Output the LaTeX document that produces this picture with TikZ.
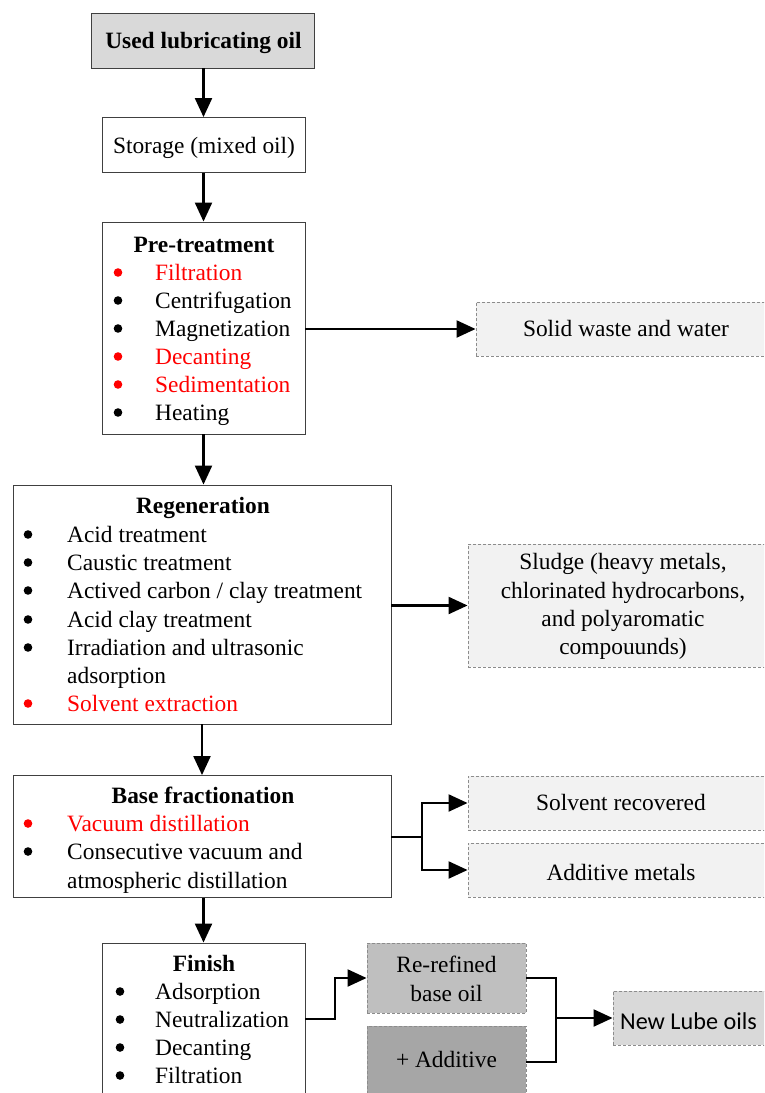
\documentclass[tikz,border=0pt]{standalone}
\usepackage{fontspec}
\setmainfont{Liberation Serif}
\newfontfamily\calfont{Carlito}
\usetikzlibrary{arrows.meta}
\definecolor{boxgray}{HTML}{D9D9D9}
\definecolor{lightbox}{HTML}{F2F2F2}
\definecolor{midbox}{HTML}{BFBFBF}
\definecolor{darkbox}{HTML}{A6A6A6}
\definecolor{dashgray}{HTML}{8C8C8C}
\begin{document}
\begin{tikzpicture}[x=1pt,y=-1pt,
  solidbox/.style={draw=black!75, line width=0.9pt, rectangle, inner sep=0pt},
  dashbox/.style={draw=dashgray, line width=0.9pt, dash pattern=on 3pt off 2pt, rectangle, inner sep=0pt},
  txt/.style={font=\fontsize{23.4}{28}\selectfont, inner sep=0pt},
  ttl/.style={txt, font=\fontsize{23.4}{28}\selectfont\bfseries},
  dot/.style={circle, inner sep=0pt, minimum size=8.6pt},
  arr/.style={line width=2.2pt, -{Triangle[length=19pt,width=17pt]}},
  conn/.style={line width=2.2pt},
]
\useasboundingbox (0,0) rectangle (764,1093);
\fill[white] (0,0) rectangle (764,1093);
\clip (0,0) rectangle (764,1093);

% ---- main column boxes
\node[solidbox, fill=boxgray, minimum width=223pt, minimum height=55pt] (used) at (203,40.5) {};
\node[ttl, anchor=base] (usedt) at (203.5,48) {Used lubricating oil};

\node[solidbox, minimum width=203pt, minimum height=55pt] (store) at (203.5,145) {};
\node[txt, anchor=base] (storet) at (204,153) {Storage (mixed oil)};

\node[solidbox, minimum width=203pt, minimum height=212pt] (pre) at (203.5,328) {};
\node[ttl, anchor=base] (pret) at (204,252) {Pre-treatment};
\foreach \y/\t/\c [count=\i] in {280/Filtration/red, 308/Centrifugation/black, 336/Magnetization/black, 364/Decanting/red, 392/Sedimentation/red, 420/Heating/black}{
  \node[dot, fill=\c] (preb\i) at (118,\y-7.5) {};
  \node[txt, anchor=base west, text=\c] (prei\i) at (155,\y) {\t};
}

\node[solidbox, minimum width=378pt, minimum height=239pt] (regen) at (202,604.5) {};
\node[ttl, anchor=base] (regent) at (203,513) {Regeneration};
\foreach \y/\t/\c [count=\i] in {542/{Acid treatment}/black, 570/{Caustic treatment}/black, 598/{Actived carbon / clay treatment}/black, 627/{Acid clay treatment}/black, 655/{Irradiation and ultrasonic}/black, 711/{Solvent extraction}/red}{
  \node[dot, fill=\c] (regb\i) at (28,\y-7.5) {};
  \node[txt, anchor=base west, text=\c] (regi\i) at (67,\y) {\t};
}
\node[txt, anchor=base west] (regi6b) at (67,683) {adsorption};

\node[solidbox, minimum width=378pt, minimum height=122pt] (base) at (202,836.5) {};
\node[ttl, anchor=base] (baset) at (203,803) {Base fractionation};
\node[dot, fill=red] (basb1) at (28,823.5) {};
\node[txt, anchor=base west, text=red] (basi1) at (67,831) {Vacuum distillation};
\node[dot, fill=black] (basb2) at (28,851.5) {};
\node[txt, anchor=base west] (basi2) at (67,859) {Consecutive vacuum and};
\node[txt, anchor=base west] (basi3) at (67,888) {atmospheric distillation};

\node[solidbox, minimum width=203pt, minimum height=152pt] (fin) at (203.5,1019) {};
\node[ttl, anchor=base] (fint) at (204,971) {Finish};
\foreach \y/\t [count=\i] in {999/Adsorption, 1027/Neutralization, 1055/Decanting, 1083/Filtration}{
  \node[dot, fill=black] (finb\i) at (120,\y-7.5) {};
  \node[txt, anchor=base west] (fini\i) at (155,\y) {\t};
}

% ---- side boxes
\node[dashbox, fill=lightbox, minimum width=300pt, minimum height=54pt] (solid) at (626,329) {};
\node[txt, anchor=base] (solidt) at (626,336) {Solid waste and water};

\node[dashbox, fill=lightbox, minimum width=310pt, minimum height=123pt] (sludge) at (623,605.5) {};
\node[txt, anchor=base] (sl1) at (623,569) {Sludge (heavy metals,};
\node[txt, anchor=base] (sl2) at (623,598) {chlorinated hydrocarbons,};
\node[txt, anchor=base] (sl3) at (623,626) {and polyaromatic};
\node[txt, anchor=base] (sl4) at (623,654) {compouunds)};

\node[dashbox, fill=lightbox, minimum width=306pt, minimum height=54pt] (solv) at (621,803) {};
\node[txt, anchor=base] (solvt) at (621,810) {Solvent recovered};
\node[dashbox, fill=lightbox, minimum width=306pt, minimum height=54pt] (addm) at (621,870) {};
\node[txt, anchor=base] (addmt) at (621,880) {Additive metals};

\node[dashbox, fill=midbox, minimum width=159pt, minimum height=70pt] (refd) at (446.5,978) {};
\node[txt, anchor=base] (refd1) at (446.5,972) {Re-refined};
\node[txt, anchor=base] (refd2) at (446.5,1001) {base oil};
\node[dashbox, fill=darkbox, minimum width=159pt, minimum height=72pt] (addv) at (446.5,1062) {};
\node[txt, anchor=base] (addvt) at (446.5,1067) {+ Additive};

\node[dashbox, fill=boxgray, minimum width=160pt, minimum height=54pt] (lube) at (693,1018) {};
\node[txt, anchor=base, font=\fontsize{24.2}{28}\calfont] (lubet) at (688.5,1029) {New Lube oils};

% ---- connectors
\draw[arr] (used.south -| store.north) -- (store.north);
\draw[arr] (store.south) -- (pre.north);
\draw[arr] (pre.east |- solid.west) -- (solid.west);
\draw[arr] (pre.south) -- (regen.north -| pre.south);
\draw[arr] (regen.east |- sludge.west) -- (sludge.west);
\draw[arr] (regen.south -| base.north) -- (base.north);
\coordinate (fork) at (422,837);
\draw[conn] (base.east |- fork) -- (fork);
\draw[arr] (fork) |- (solv.west);
\draw[arr] (fork) |- (addm.west);
\draw[arr] (base.south -| fin.north) -- (fin.north);
\coordinate (fork2) at (335,1019);
\draw[arr] (fin.east |- fork2) -- (fork2) |- (refd.west);
\coordinate (join) at (556,1018);
\draw[conn] (refd.east) -| (join);
\draw[conn] (addv.east) -| (join);
\draw[arr] (join) -- (lube.west);
\end{tikzpicture}
\end{document}
